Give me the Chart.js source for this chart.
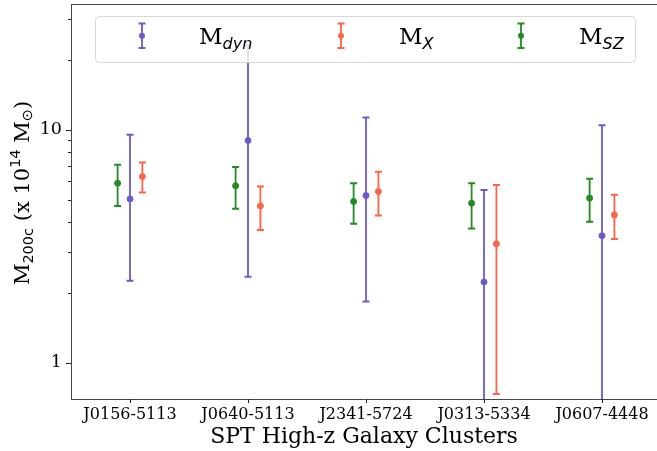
<!DOCTYPE html>
<html>
<head>
<meta charset="utf-8">
<script src="https://cdn.jsdelivr.net/npm/chart.js@4.4.0/dist/chart.umd.min.js"></script>
<style>
  html, body { margin: 0; padding: 0; background: #fff; overflow: hidden; }
  #wrap { width: 657px; height: 451px; }
</style>
</head>
<body>
<div id="wrap"><canvas id="chart" width="657" height="451"></canvas></div>
<script>
// SPT high-z clusters: M200c estimates (x 1e14 Msun) with error ranges

const categories = ['J0156-5113', 'J0640-5113', 'J2341-5724', 'J0313-5334', 'J0607-4448'];

const mDyn     = [5.05, 9.0, 5.22, 2.22, 3.51];
const mDynLow  = [2.25, 2.34, 1.83, 0.5, 0.5];
const mDynHigh = [9.52, 23.0, 11.3, 5.52, 10.47];

const mX     = [6.30, 4.71, 5.43, 3.24, 4.31];
const mXLow  = [5.38, 3.71, 4.28, 0.734, 3.40];
const mXHigh = [7.23, 5.71, 6.60, 5.80, 5.26];

const mSZ     = [5.90, 5.75, 4.92, 4.84, 5.09];
const mSZLow  = [4.71, 4.58, 3.95, 3.77, 4.03];
const mSZHigh = [7.07, 6.92, 5.90, 5.90, 6.16];

const yTicks = [1, 2, 3, 4, 5, 6, 7, 8, 9, 10, 20, 30];

const colors = { dyn: '#6a5acd', x: '#ff6347', sz: '#228b22' };
const shift = 0.105;
const serif = "'DejaVu Serif', serif";
const sans = "'DejaVu Sans', sans-serif";

function series(vals, lo, hi, dx) {
    return vals.map(function(v, i) {
        return { x: i + dx, y: v, lo: lo[i], hi: hi[i] };
    });
}

const datasets = [
    { label: 'M_dyn', data: series(mDyn, mDynLow, mDynHigh, 0), color: colors.dyn },
    { label: 'M_X', data: series(mX, mXLow, mXHigh, shift), color: colors.x },
    { label: 'M_SZ', data: series(mSZ, mSZLow, mSZHigh, -shift), color: colors.sz }
].map(function(d) {
    return {
        label: d.label,
        data: d.data,
        backgroundColor: d.color,
        borderColor: d.color,
        pointRadius: 3,
        pointHoverRadius: 3,
        showLine: false
    };
});

function drawBar(ctx, x, yTop, yBot, color) {
    ctx.strokeStyle = color;
    ctx.lineWidth = 1.8;
    ctx.beginPath();
    ctx.moveTo(x, yTop);
    ctx.lineTo(x, yBot);
    ctx.stroke();
    ctx.lineWidth = 2;
    ctx.beginPath();
    ctx.moveTo(x - 3.5, yTop);
    ctx.lineTo(x + 3.5, yTop);
    ctx.moveTo(x - 3.5, yBot);
    ctx.lineTo(x + 3.5, yBot);
    ctx.stroke();
}

// draw text runs: [text, font, baselineShift]
function drawRuns(ctx, runs, x, y) {
    runs.forEach(function(r) {
        ctx.font = r[1];
        ctx.fillText(r[0], x, y + r[2]);
        x += ctx.measureText(r[0]).width;
    });
}
function runsWidth(ctx, runs) {
    let w = 0;
    runs.forEach(function(r) { ctx.font = r[1]; w += ctx.measureText(r[0]).width; });
    return w;
}

function noPad(scale) {
    scale.paddingTop = 0;
    scale.paddingBottom = 0;
    scale.paddingLeft = 0;
    scale.paddingRight = 0;
}

const errorBars = {
    id: 'errorBars',
    beforeDatasetsDraw(chart) {
        const ctx = chart.ctx;
        const a = chart.chartArea;
        const xs = chart.scales.x, ys = chart.scales.y;
        ctx.save();
        ctx.beginPath();
        ctx.rect(a.left, a.top, a.right - a.left, a.bottom - a.top);
        ctx.clip();
        chart.data.datasets.forEach(function(ds) {
            ds.data.forEach(function(p) {
                const px = xs.getPixelForValue(p.x);
                drawBar(ctx, px, ys.getPixelForValue(p.hi), ys.getPixelForValue(p.lo), ds.borderColor);
            });
        });
        ctx.restore();
    },
    afterDraw(chart) {
        const ctx = chart.ctx;
        const a = chart.chartArea;
        const xs = chart.scales.x, ys = chart.scales.y;
        ctx.save();

        // top spine
        ctx.strokeStyle = '#444';
        ctx.lineWidth = 1;
        ctx.beginPath();
        ctx.moveTo(a.left, a.top + 0.5);
        ctx.lineTo(a.right, a.top + 0.5);
        ctx.stroke();

        // tick marks
        ctx.strokeStyle = '#222';
        ctx.lineWidth = 1;
        yTicks.forEach(function(v) {
            const y = Math.round(ys.getPixelForValue(v)) + 0.5;
            const len = (v === 1 || v === 10) ? 5 : 3;
            ctx.beginPath();
            ctx.moveTo(a.left - len, y);
            ctx.lineTo(a.left, y);
            ctx.stroke();
        });
        categories.forEach(function(c, i) {
            const x = Math.round(xs.getPixelForValue(i)) + 0.5;
            ctx.beginPath();
            ctx.moveTo(x, a.bottom);
            ctx.lineTo(x, a.bottom + 4);
            ctx.stroke();
        });

        // y axis title
        ctx.fillStyle = '#000';
        ctx.textBaseline = 'alphabetic';
        ctx.textAlign = 'left';
        const big = '21px ' + serif, small = '14.5px ' + sans;
        const runs = [
            ['M', big, 0], ['200c', small, 4], [' (x 10', big, 0],
            ['14', small, -9], [' M', big, 0], ['\u2299', small, 3], [')', big, 0]
        ];
        const w = runsWidth(ctx, runs);
        ctx.save();
        ctx.translate(29, 193);
        ctx.rotate(-Math.PI / 2);
        drawRuns(ctx, runs, -w / 2, 0);
        ctx.restore();

        // legend
        const lx = 95.5, ly = 16.5, lw = 540, lh = 46;
        ctx.beginPath();
        ctx.roundRect(lx, ly, lw, lh, 4);
        ctx.fillStyle = 'rgba(255,255,255,0.8)';
        ctx.fill();
        ctx.strokeStyle = '#d6d6d6';
        ctx.lineWidth = 1;
        ctx.stroke();

        const entries = [
            { mx: 142, tx: 199, sub: 'dyn', c: colors.dyn },
            { mx: 341, tx: 399, sub: 'X', c: colors.x },
            { mx: 521, tx: 579, sub: 'SZ', c: colors.sz }
        ];
        entries.forEach(function(e) {
            drawBar(ctx, e.mx, 23.5, 48, e.c);
            ctx.fillStyle = e.c;
            ctx.beginPath();
            ctx.arc(e.mx, 35.7, 3, 0, Math.PI * 2);
            ctx.fill();
            ctx.fillStyle = '#000';
            drawRuns(ctx, [['M', '23px ' + serif, 0], [e.sub, 'oblique 16px ' + sans, 5]], e.tx, 43.5);
        });

        ctx.restore();
    }
};

new Chart(document.getElementById('chart'), {
    type: 'scatter',
    data: { datasets: datasets },
    plugins: [errorBars],
    options: {
        responsive: false,
        animation: false,
        devicePixelRatio: 1,
        layout: { autoPadding: false, padding: { top: 4, right: 0, bottom: 0, left: 0 } },
        plugins: {
            legend: { display: false },
            tooltip: { enabled: false }
        },
        scales: {
            x: {
                type: 'linear',
                min: -0.5,
                max: 4.466,
                afterBuildTicks: function(scale) {
                    scale.ticks = categories.map(function(c, i) { return { value: i }; });
                },
                afterFit: function(scale) { scale.height = 52; noPad(scale); },
                ticks: {
                    color: '#000',
                    padding: 6,
                    maxRotation: 0,
                    font: { family: serif, size: 16 },
                    callback: function(v) { return categories[v]; }
                },
                grid: { display: false, drawTicks: false },
                border: { display: true, color: '#444', width: 1 },
                title: {
                    display: true,
                    text: 'SPT High-z Galaxy Clusters',
                    color: '#000',
                    padding: { top: 0, bottom: 1 },
                    font: { family: serif, size: 22 }
                }
            },
            y: {
                type: 'logarithmic',
                min: 0.698,
                max: 34.7,
                afterBuildTicks: function(scale) {
                    scale.ticks = yTicks.map(function(v) { return { value: v }; });
                },
                afterFit: function(scale) { scale.width = 71; noPad(scale); },
                ticks: {
                    color: '#000',
                    padding: 9,
                    autoSkip: false,
                    font: { family: serif, size: 17.5 },
                    callback: function(v) { return (v === 1 || v === 10) ? String(v) : ''; }
                },
                grid: { display: false, drawTicks: false },
                border: { display: true, color: '#444', width: 1 }
            }
        }
    }
});
</script>
</body>
</html>
